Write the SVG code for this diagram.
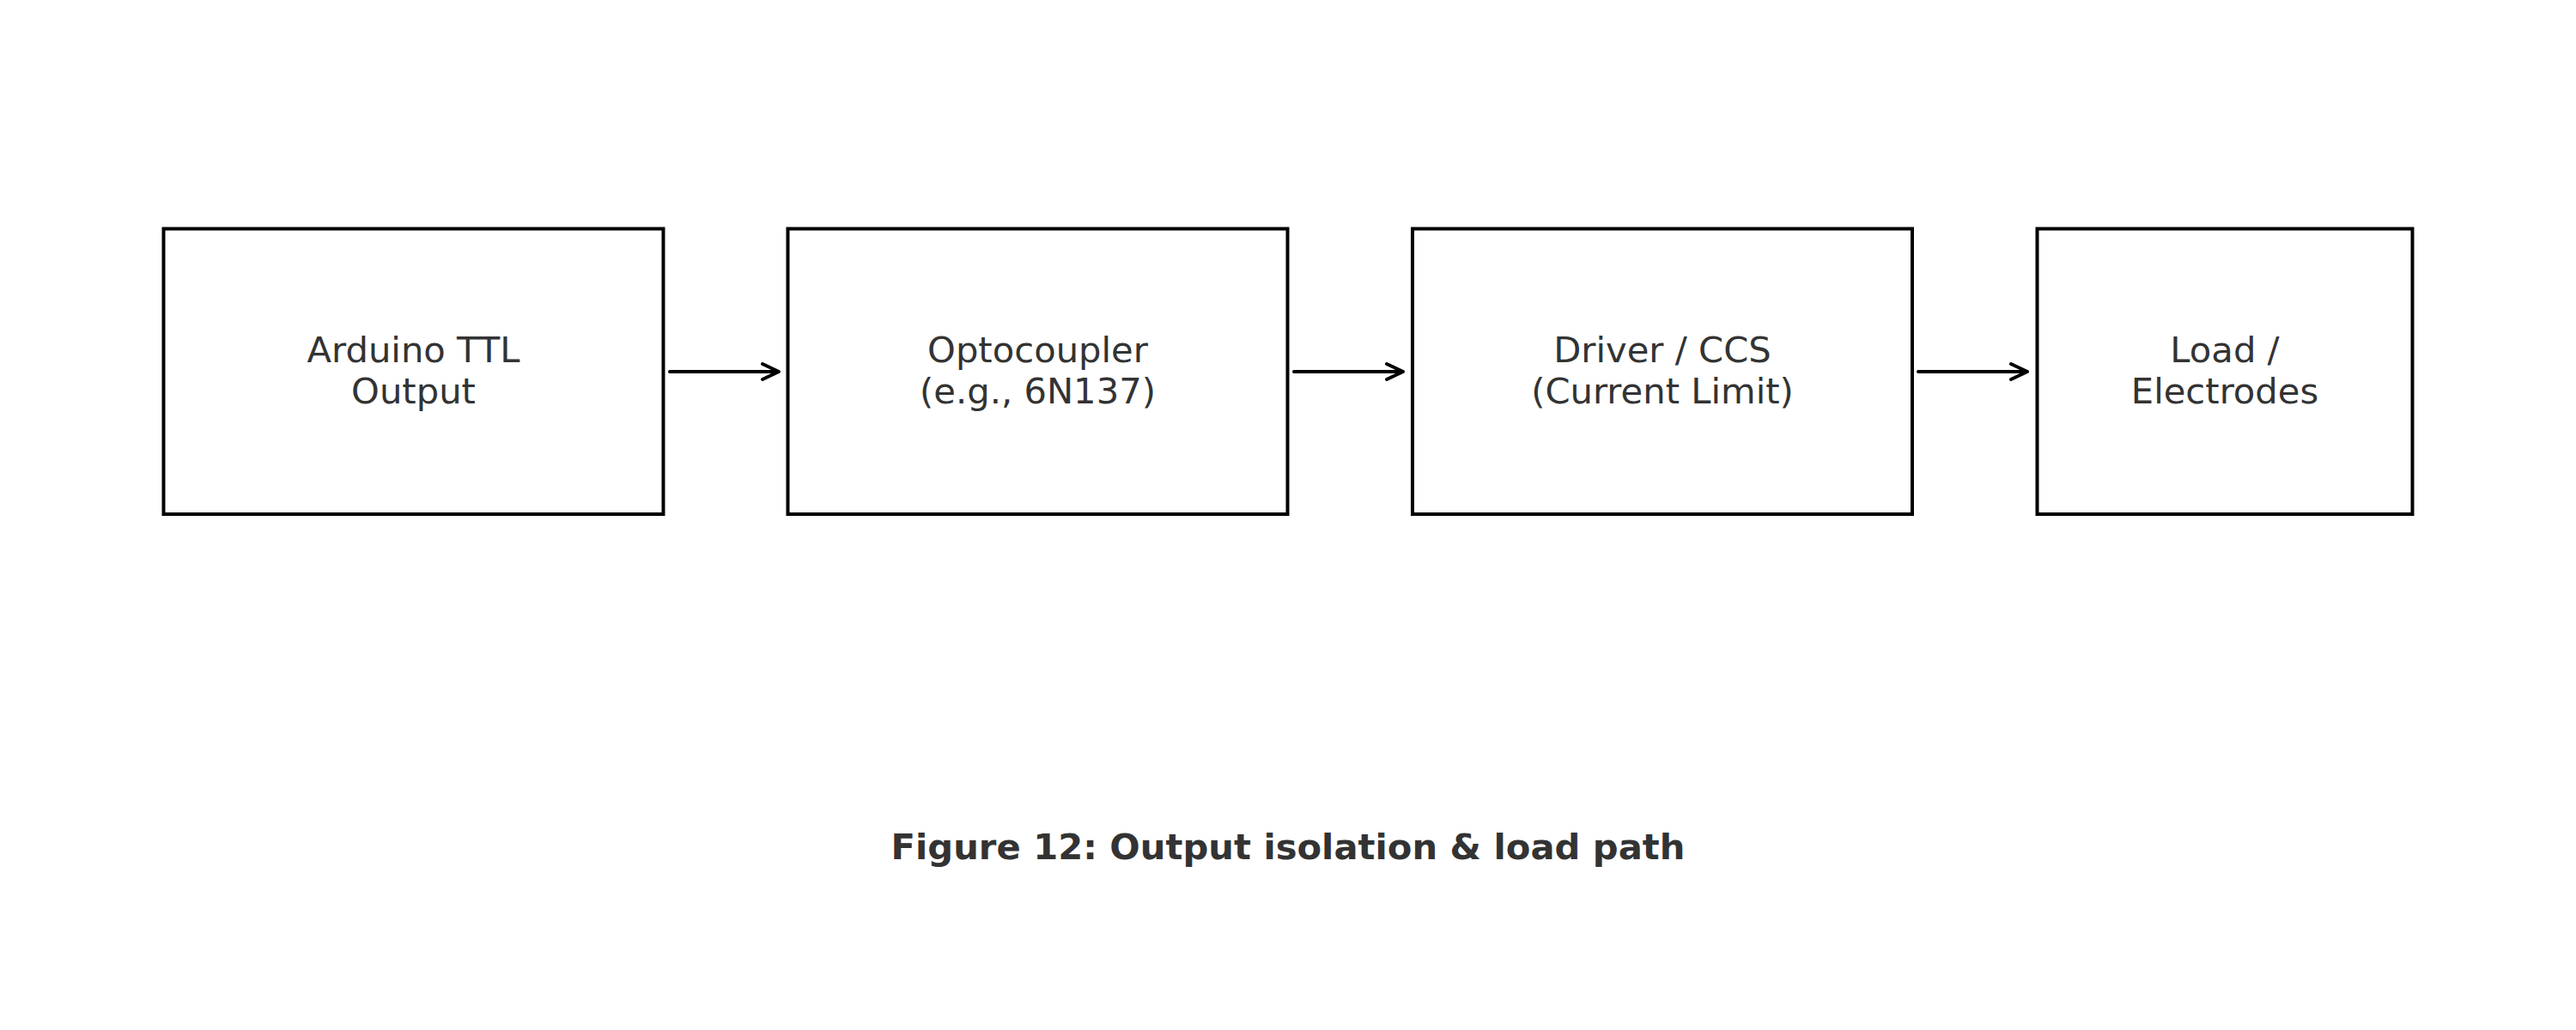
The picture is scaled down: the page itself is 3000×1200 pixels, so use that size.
<svg xmlns="http://www.w3.org/2000/svg" width="3000" height="1200" viewBox="0 0 3000 1200">
<style>
.box{fill:#ffffff;stroke:#000000;stroke-width:4}
.lbl{font-family:"DejaVu Sans",sans-serif;font-size:41.7px;fill:#333333;text-anchor:middle}
.title{font-family:"DejaVu Sans",sans-serif;font-size:41.7px;font-weight:bold;fill:#333333;text-anchor:middle}
.edge{stroke:#000000;stroke-width:4;fill:none;stroke-linecap:round;stroke-linejoin:round}
</style>
<rect width="3000" height="1200" fill="#ffffff"/>
<g id="node-arduino">
<rect class="box" x="190.5" y="266.5" width="582" height="332.5"/>
<text class="lbl" x="481.5" y="421.5">Arduino TTL</text>
<text class="lbl" x="481.5" y="470">Output</text>
</g>
<g id="node-opto">
<rect class="box" x="917.5" y="266.5" width="582" height="332.5"/>
<text class="lbl" x="1208.5" y="421.5">Optocoupler</text>
<text class="lbl" x="1208.5" y="470">(e.g., 6N137)</text>
</g>
<g id="node-driver">
<rect class="box" x="1645" y="266.5" width="582" height="332.5"/>
<text class="lbl" x="1936" y="421.5">Driver / CCS</text>
<text class="lbl" x="1936" y="470">(Current Limit)</text>
</g>
<g id="node-load">
<rect class="box" x="2372.5" y="266.5" width="437" height="332.5"/>
<text class="lbl" x="2591" y="421.5">Load /</text>
<text class="lbl" x="2591" y="470">Electrodes</text>
</g>
<g id="connectors">
<path class="edge" d="M780 433H907M888 424L907 433L888 442"/>
<path class="edge" d="M1507 433H1634M1615 424L1634 433L1615 442"/>
<path class="edge" d="M2234 433H2361M2342 424L2361 433L2342 442"/>
</g>
<text class="title" x="1500" y="1001">Figure 12: Output isolation &amp; load path</text>
</svg>
